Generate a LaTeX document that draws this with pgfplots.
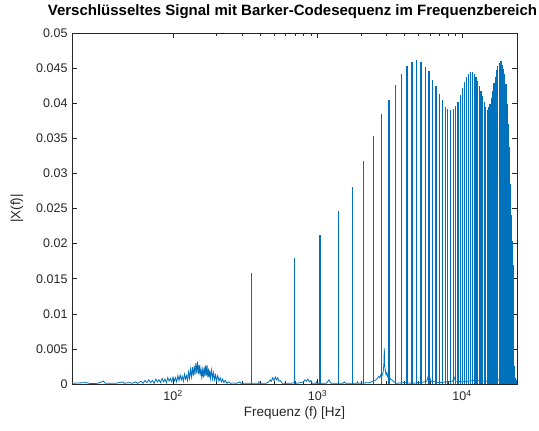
\documentclass[border=0pt]{standalone}
\usepackage{pgfplots}
\pgfplotsset{compat=1.18}
\usepackage{fontspec}
\setmainfont{Liberation Sans}
\definecolor{mblue}{RGB}{0,114,189}
\definecolor{axgray}{RGB}{38,38,38}
\begin{document}
\begin{tikzpicture}
\useasboundingbox (0,0) rectangle (539bp,431bp);
\begin{axis}[
  at={(72bp,47bp)}, anchor=south west,
  scale only axis, width=445bp, height=351bp,
  xmode=log, xmin=20, xmax=24000, ymin=0, ymax=0.05,
  scaled y ticks=false,
  xtick={100,1000,10000},
  xticklabels={10\textsuperscript{2},10\textsuperscript{3},10\textsuperscript{4}},
  ytick={0,0.005,0.01,0.015,0.02,0.025,0.03,0.035,0.04,0.045,0.05},
  yticklabels={0,0.005,0.01,0.015,0.02,0.025,0.03,0.035,0.04,0.045,0.05},
  tick align=inside, major tick length=5bp, minor tick length=3bp,
  minor x tick num=8,
  axis line style={axgray, line width=0.5bp},
  every tick/.style={axgray, line width=0.5bp},
  tick label style={font=\fontsize{12.5bp}{14bp}\selectfont, text=axgray},
  xticklabel style={yshift=-3bp},
  yticklabel style={xshift=-1bp},
  xlabel={Frequenz (f) [Hz]},
  ylabel={|X(f)|},
  label style={font=\fontsize{13.5bp}{15bp}\selectfont, text=axgray},
  xlabel style={at={(axis description cs:0.5,0)}, anchor=center, yshift=-29bp},
  ylabel style={at={(axis description cs:-0.1236,0.5)}, anchor=center},
  title={Verschlüsseltes Signal mit Barker-Codesequenz im Frequenzbereich},
  title style={font=\bfseries\fontsize{15bp}{17bp}\selectfont, at={(axis description cs:0.5,1)}, anchor=base, yshift=12bp, xshift=-2bp},
  clip=true,
]
\addplot[mblue, line width=0.8bp, sharp plot] coordinates {
(20,0.0001)(25,0.0002)(27,0.00005)(30,0.0001)(33,0.0004)(34,0.0001)(40,0.0001)(45,0.0003)(46,0.0001)(50,0.0002)(52,0.0001)(55,0.0003)(57,0.0001)
(60,0.0004)(62,0.0001)(64,0.0005)(66,0.0002)(68,0.0006)(70,0.0002)(72,0.0005)(74,0.0001)(76,0.0007)(78,0.0003)(80,0.0006)(82,0.0002)(84,0.0008)(86,0.0003)(88,0.0007)(90,0.0002)(92,0.0009)(94,0.0004)(96,0.0008)(98,0.0003)
(100,0.0010)(102,0.0004)(104,0.0009)(106,0.0003)(108,0.0012)(110,0.0005)(112,0.0013)(114,0.0006)(116,0.0011)(118,0.0004)(120,0.0014)(122,0.0007)(124,0.0012)(126,0.0005)(128,0.0017)(130,0.0008)(132,0.0021)(134,0.0010)(136,0.0024)(138,0.0011)(140,0.0026)(142,0.0013)(144,0.0030)(146,0.0015)(148,0.0032)(150,0.0014)(152,0.0027)(154,0.0012)(156,0.0022)(158,0.0010)(160,0.0020)(162,0.0009)(164,0.0024)(166,0.0011)(168,0.0026)(170,0.0012)(172,0.0027)(174,0.0010)(176,0.0022)(178,0.0009)(180,0.0019)(182,0.0008)(185,0.0020)(188,0.0007)(191,0.0016)(194,0.0006)(197,0.0013)(200,0.0005)(204,0.0012)(208,0.0004)(212,0.0009)(216,0.0003)(220,0.0007)(225,0.0002)(230,0.0005)(236,0.0001)(242,0.0003)(250,0.0001)(260,0.00015)(275,0.0001)(290,0.0003)(295,0.0001)(310,0.0001)(330,0.0001)
(350,0.0001)(390,0.0001)(393,0.0003)(396,0.0001)(440,0.0001)(460,0.0003)(470,0.0006)(480,0.0004)(490,0.0009)(500,0.0005)(510,0.0010)(520,0.0006)(530,0.0009)(540,0.0004)(550,0.0005)(570,0.0001)(650,0.0001)(700,0.0002)(720,0.0001)
(800,0.0003)(820,0.0006)(840,0.0004)(860,0.0007)(880,0.0003)(900,0.0005)(920,0.0001)(975,0.0001)(980,0.0003)(990,0.0001)(1150,0.0001)(1180,0.0004)(1200,0.0006)(1220,0.0003)(1240,0.0001)(1500,0.0001)(1530,0.0003)(1560,0.0001)(1870,0.0001)(1890,0.0003)(1910,0.0001)
(2300,0.0002)(2400,0.0004)(2500,0.0005)(2600,0.0008)(2650,0.0011)(2700,0.0009)(2750,0.0014)(2800,0.0012)(2850,0.0018)(2880,0.0030)(2897,0.0051)(2910,0.0028)(2940,0.0020)(2980,0.0013)(3020,0.0016)(3060,0.0010)(3120,0.0011)(3200,0.0007)(3300,0.0005)(3400,0.0003)(3500,0.0001)
(4000,0.0002)(4500,0.0001)(5200,0.0002)(5700,0.0004)(5850,0.0012)(5900,0.0016)(5950,0.0010)(6100,0.0004)(7000,0.0002)(8600,0.0004)(8800,0.0010)(9000,0.0004)(10000,0.0003)(12000,0.0005)(15000,0.0004)(18000,0.0006)(22000,0.0005)(24000,0.0002)
};
\addplot[mblue, line width=1.2bp, ycomb] coordinates {
(347,0.0158)(694,0.0180)(1041,0.0212)(1388,0.0247)(1735,0.0281)(2082,0.0317)(2429,0.0353)(2776,0.0384)(3123,0.0405)(3470,0.0426)
(3817,0.0442)(4164,0.0453)(4511,0.0459)(4858,0.0461)(5205,0.0458)(5552,0.0452)(5899,0.0446)(6246,0.0433)(6593,0.0424)(6940,0.0413)
(7287,0.0405)(7634,0.0395)(7981,0.0392)(8328,0.0390)(8675,0.0392)(9022,0.0396)(9369,0.0402)(9716,0.0412)(10063,0.0421)(10410,0.0430)
(10757,0.0437)(11104,0.0442)(11451,0.0445)(11798,0.0445)(12145,0.0442)(12492,0.0437)(12839,0.0432)(13186,0.0425)(13533,0.0418)(13880,0.0410)
(14227,0.0401)(14574,0.0395)(14921,0.0391)(15268,0.0394)(15615,0.0399)(15962,0.0407)(16309,0.0418)(16656,0.0429)(17003,0.0438)(17350,0.0447)
(17697,0.0453)(18044,0.0457)(18391,0.0460)(18738,0.0460)(19085,0.0455)(19432,0.0449)(19779,0.0442)(20126,0.0427)(20473,0.0399)(20820,0.0371)
(21167,0.0337)(21514,0.0285)(21861,0.0241)(22208,0.0203)(22555,0.0169)(22902,0.0025)(23249,0.0008)(23596,0.0005)(23943,0.0003)
};
\end{axis}
\end{tikzpicture}
\end{document}
